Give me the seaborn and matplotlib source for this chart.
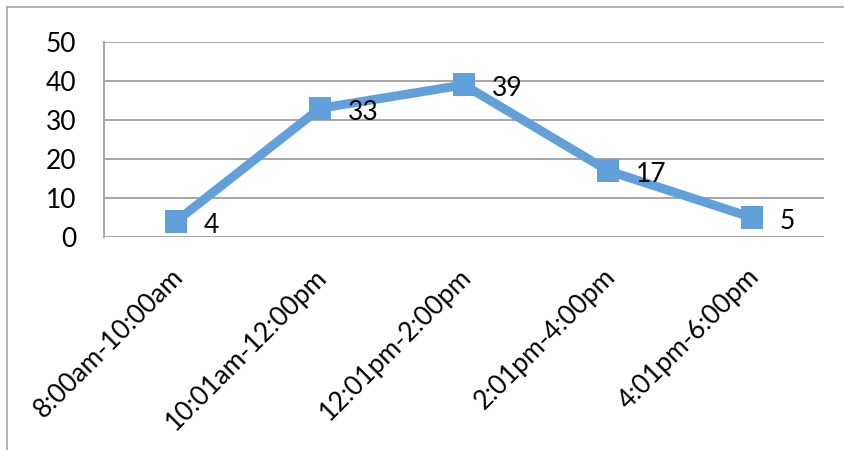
import matplotlib
matplotlib.use("Agg")
import matplotlib.pyplot as plt
import matplotlib.patheffects as pe
from matplotlib.lines import Line2D
import matplotlib.transforms as mtransforms
import seaborn as sns
import pandas as pd

# Visits per time slot
time_slots = ["8:00am-10:00am", "10:01am-12:00pm", "12:01pm-2:00pm",
              "2:01pm-4:00pm", "4:01pm-6:00pm"]
counts = [4, 33, 39, 17, 5]
y_ticks = [0, 10, 20, 30, 40, 50]

df = pd.DataFrame({"slot": time_slots, "count": counts})

sns.set_theme(style="white")
plt.rcParams["font.family"] = ["Lato", "DejaVu Sans"]

W, H, DPI = 844, 450, 100
fig = plt.figure(figsize=(W / DPI, H / DPI), dpi=DPI)
ax = fig.add_axes([104 / W, 1 - 237 / H, 720 / W, 195 / H])

line_color = "#62A0DC"
# connecting line
sns.lineplot(data=df, x="slot", y="count", ax=ax, color=line_color,
             linewidth=6.5, sort=False)
# square markers with a soft drop shadow
sns.lineplot(data=df, x="slot", y="count", ax=ax, color=line_color,
             linestyle="none", marker="s", markersize=16.5,
             markeredgewidth=0, sort=False)
ax.lines[-1].set_path_effects([
    pe.SimpleLineShadow(offset=(1.5, -2), alpha=0.25, shadow_color="#666666"),
    pe.Normal()])

ax.set_xlim(-0.5, len(time_slots) - 0.5)
ax.set_ylim(0, 50)
ax.set_yticks(y_ticks)
ax.set_xlabel("")
ax.set_ylabel("")

grid_color = "#A6A6A6"
ax.yaxis.grid(True, color=grid_color, linewidth=1.4)
ax.xaxis.grid(False)
ax.set_axisbelow(True)
for side in ["top", "right", "bottom"]:
    ax.spines[side].set_visible(False)
ax.spines["left"].set_color(grid_color)
ax.spines["left"].set_linewidth(1.4)
ax.tick_params(axis="y", length=0, pad=20, labelsize=19, labelcolor="black")
ax.tick_params(axis="x", length=0, labelsize=19, labelcolor="black")

ax.set_xticks(range(len(time_slots)))
ax.set_xticklabels(time_slots, rotation=45, ha="right", va="center",
                   rotation_mode="anchor")
shift = mtransforms.ScaledTranslation(3 / DPI, -31 / DPI, fig.dpi_scale_trans)
for lbl in ax.get_xticklabels():
    lbl.set_transform(lbl.get_transform() + shift)

# Value labels to the right of each point
for i, v in enumerate(counts):
    ax.annotate(str(v), xy=(i, v), xytext=(28, -4), textcoords="offset pixels",
                ha="left", va="center", fontsize=19, color="black")

# Chart frame (top and left edges)
fig.add_artist(Line2D([7 / W, 1], [1 - 7 / H, 1 - 7 / H], transform=fig.transFigure,
                      color="#A6A6A6", linewidth=1.2))
fig.add_artist(Line2D([7 / W, 7 / W], [0, 1 - 7 / H], transform=fig.transFigure,
                      color="#A6A6A6", linewidth=1.2))

fig.savefig("out.png", dpi=DPI, facecolor="white")
